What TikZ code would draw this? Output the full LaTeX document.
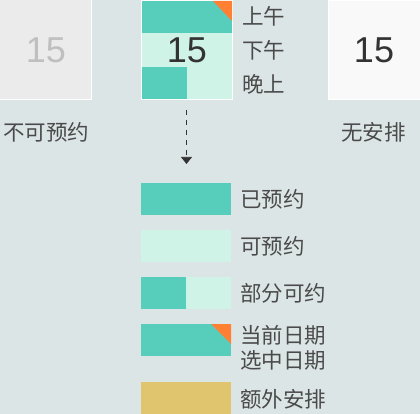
\documentclass[tikz,border=0pt]{standalone}
\usepackage{fontspec}
\setmainfont{Liberation Sans}
\newfontfamily\cjk{Noto Sans CJK SC}
\usetikzlibrary{arrows.meta}
\definecolor{bg}{HTML}{DCE5E6}
\definecolor{teal}{HTML}{57CDBC}
\definecolor{mint}{HTML}{D0F3E8}
\definecolor{orng}{HTML}{FF7F33}
\definecolor{gold}{HTML}{E0C56E}
\definecolor{dis}{HTML}{EBEBEB}
\definecolor{nosch}{HTML}{F9F9F9}
\definecolor{txt}{HTML}{4A4A4A}
\definecolor{num}{HTML}{333333}
\tikzset{
  lbl/.style={font=\cjk\fontsize{21.5}{24}\selectfont, text=txt, inner sep=0pt, anchor=west},
  big/.style={font=\fontsize{36}{40}\selectfont, inner sep=0pt},
}
\begin{document}
\begin{tikzpicture}[x=1pt,y=-1pt]
\useasboundingbox (0,0) rectangle (420,414);
\fill[bg] (0,0) rectangle (420,414);
% left box
\fill[white] (0,0) rectangle (92,100);
\fill[dis] (0,0) rectangle (91,99);
\node[big, text=black!25] (n1) at (46,50) {15};
% middle box
\fill[white] (141,0) rectangle (233,100);
\fill[mint] (142,1) rectangle (232,99);
\fill[teal] (142,1) rectangle (232,33);
\fill[teal] (142,67) rectangle (187,99);
\fill[orng] (213,1) -- (232,1) -- (232,21) -- cycle;
\node[big, text=num] (n2) at (187,50) {15};
\node[lbl] (am) at (242,16) {上午};
\node[lbl] (pm) at (242,50) {下午};
\node[lbl] (ev) at (242,84) {晚上};
% right box
\fill[white] (328,0) rectangle (420,100);
\fill[nosch] (329,1) rectangle (420,99);
\node[big, text=num] (n3) at (374,50) {15};
\node[lbl] (l1) at (3,132) {不可预约};
\node[lbl, anchor=east] (l3) at (406,132) {无安排};
% arrow
\coordinate (s) at (186.5,110);
\coordinate (e) at (186.5,164);
\draw[num, line width=0.7pt, dash pattern=on 5pt off 5pt, -{Triangle[width=11pt,length=7pt]}] (s) -- (e);
% legend
\fill[teal] (141,183) rectangle (231,215);
\node[lbl] (g1) at (240,199) {已预约};
\fill[mint] (141,230) rectangle (231,262);
\node[lbl] (g2) at (240,246) {可预约};
\fill[mint] (141,277) rectangle (231,309);
\fill[teal] (141,277) rectangle (186,309);
\node[lbl] (g3) at (240,293) {部分可约};
\fill[teal] (141,324) rectangle (231,356);
\fill[orng] (211,324) -- (231,324) -- (231,344) -- cycle;
\node[lbl] (g4) at (240,335) {当前日期};
\node[lbl] (g5) at (240,360) {选中日期};
\fill[gold] (141,382) rectangle (231,414);
\node[lbl] (g6) at (240,399) {额外安排};
\end{tikzpicture}
\end{document}
